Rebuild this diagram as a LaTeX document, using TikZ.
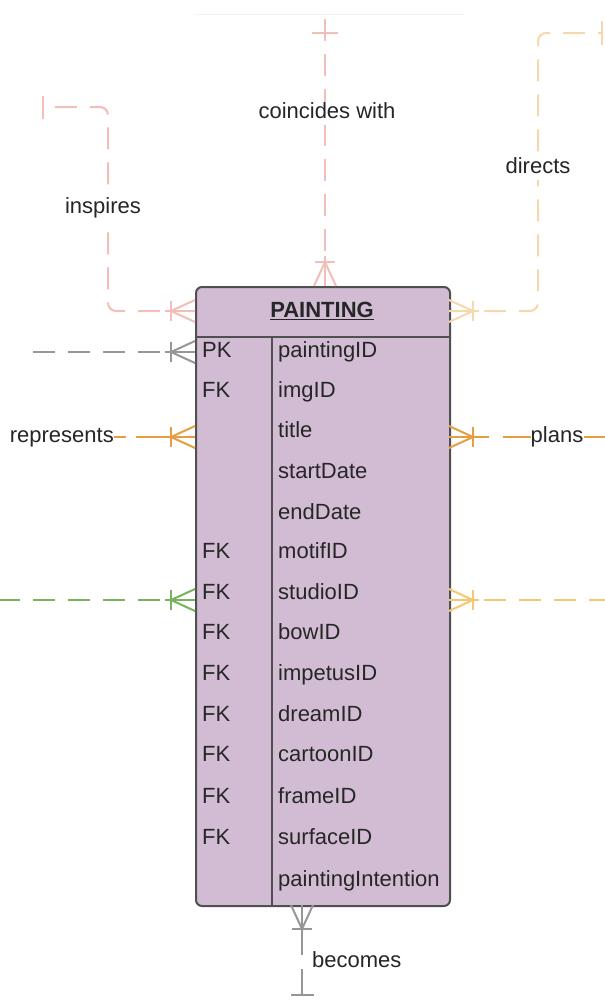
\documentclass[tikz,border=0pt]{standalone}
\usepackage{fontspec}
\setmainfont{Liberation Sans}
\definecolor{pinkc}{RGB}{241,190,186}
\definecolor{tanc}{RGB}{245,216,172}
\definecolor{grayc}{RGB}{150,150,150}
\definecolor{orangec}{RGB}{230,158,68}
\definecolor{greenc}{RGB}{122,178,92}
\definecolor{yellowc}{RGB}{244,200,112}
\definecolor{boxfill}{RGB}{209,188,211}
\definecolor{boxline}{RGB}{80,80,80}
\definecolor{txt}{RGB}{38,38,38}
\begin{document}
\begin{tikzpicture}[x=1pt,y=-1pt,
  every node/.style={text=txt, font=\fontsize{22}{26}\selectfont},
  rel/.style={line width=2pt, dash pattern=on 22pt off 13pt, rounded corners=8pt},
  foot/.style={line width=2pt},
  lab/.style={fill=white, inner sep=2pt, text height=15pt, text depth=4pt},
  row/.style={anchor=west, inner sep=0pt, text height=15pt, text depth=4pt},
  crowfoot/.pic={\draw[foot] (0,-11) -- (-24,0) -- (0,11);
                 \draw[foot] (-24,-10) -- (-24,10);
                 \draw[foot] (0,0) -- (-30,0);}
]
\useasboundingbox (0,0) rectangle (605,1007);
% faint edge of the entity cut off at the top
\draw[line width=1pt, black!5] (195,14) -- (465,14);

% entity
\node[draw=boxline, fill=boxfill, line width=2pt, rounded corners=6pt,
      minimum width=254pt, minimum height=619pt, inner sep=0pt, anchor=north west]
      (box) at (195,286) {};
\coordinate (hdL) at (195,337);
\coordinate (hdR) at (449,337);
\coordinate (colT) at (272,337);
\coordinate (colB) at (272,905);
\draw[boxline, line width=2pt] (hdL) -- (hdR);
\draw[boxline, line width=2pt] (colT) -- (colB);
\node[font=\fontsize{22}{26}\selectfont\bfseries, inner sep=0pt] (ttl) at (322,311) {\underline{PAINTING}};

\foreach \k/\f/\y [count=\i] in {PK/paintingID/352, FK/imgID/392, /title/432, /startDate/473,
   /endDate/514, FK/motifID/553, FK/studioID/594, FK/bowID/634, FK/impetusID/675,
   FK/dreamID/716, FK/cartoonID/756, FK/frameID/798, FK/surfaceID/839, /paintingIntention/881}{
  \node[row] (k\i) at (202,\y) {\k};
  \node[row] (f\i) at (278,\y) {\f};
}

% end points
\coordinate (inspA) at (195,311);
\coordinate (inspE) at (43,107);
\coordinate (coinA) at (325,286);
\coordinate (coinE) at (325,10);
\coordinate (dirA) at (449,311);
\coordinate (dirE) at (602,33);
\coordinate (grayA) at (195,352);
\coordinate (grayE) at (22,352);
\coordinate (repA) at (195,437);
\coordinate (planA) at (449,437);
\coordinate (planE) at (605,437);
\coordinate (grnA) at (195,600);
\coordinate (grnE) at (0,600);
\coordinate (yelA) at (449,600);
\coordinate (yelE) at (605,600);
\coordinate (becA) at (302,905);
\coordinate (becE) at (302,996);

% inspires
\draw[rel, pinkc] (inspA) -- (108,311) -- (108,107) -- (inspE);
\draw[foot, pinkc] (inspE) ++(0,-11) -- ++(0,23);
\pic[pinkc] at (inspA) {crowfoot};
\node[lab] (inspL) at (103,208) {inspires};

% coincides with
\draw[rel, pinkc] (coinA) -- (coinE);
\draw[foot, pinkc] (312,33) -- (338,33);
\pic[pinkc, rotate=-90] at (coinA) {crowfoot};
\node[lab] (coinL) at (327,113) {coincides with};

% directs
\draw[rel, tanc] (dirA) -- (538,311) -- (538,33) -- (dirE);
\draw[foot, tanc] (dirE) ++(0,-12) -- ++(0,24);
\pic[tanc, rotate=180] at (dirA) {crowfoot};
\node[lab] (dirL) at (538,168) {directs};

% gray
\draw[rel, grayc] (grayA) -- (grayE);
\pic[grayc] at (grayA) {crowfoot};

% represents
\node[lab, anchor=east, inner sep=0pt] (repL) at (114,437) {represents};
\draw[rel, orangec, dash pattern=on 12pt off 10pt on 40pt off 0pt] (repL.east) -- (repA);
\pic[orangec] at (repA) {crowfoot};

% plans
\node[lab, inner sep=0pt] (planL) at (557,437) {plans};
\draw[rel, orangec, dash pattern=on 40pt off 14pt on 40pt] (planA) -- (planL.west);
\draw[foot, orangec] (planL.east) -- (planE);
\pic[orangec, rotate=180] at (planA) {crowfoot};

% green
\draw[rel, greenc] (grnA) -- (grnE);
\pic[greenc] at (grnA) {crowfoot};

% yellow
\draw[rel, yellowc] (yelA) -- (yelE);
\pic[yellowc, rotate=180] at (yelA) {crowfoot};

% becomes
\draw[rel, grayc, dash pattern=on 50pt off 14pt] (becA) -- (becE);
\draw[foot, grayc] (291,995) -- (314,995);
\pic[grayc, rotate=90] at (becA) {crowfoot};
\node[lab, anchor=west] (becL) at (310,962) {becomes};
\end{tikzpicture}
\end{document}
